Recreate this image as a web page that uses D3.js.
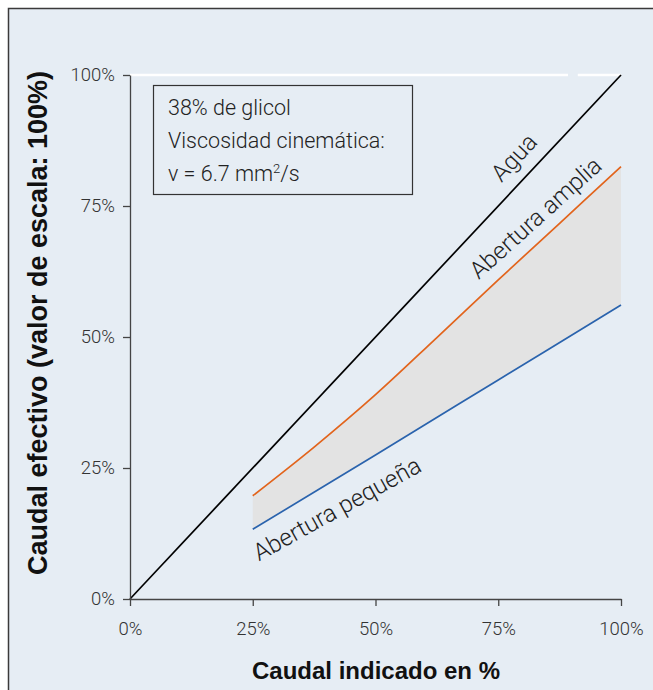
<!DOCTYPE html>
<html><head><meta charset="utf-8">
<script src="https://cdn.jsdelivr.net/npm/d3@7"></script>
<style>
html,body{margin:0;padding:0;background:#fff;}
svg{display:block;}
</style></head>
<body>
<script>
const xTicks = [0, 25, 50, 75, 100];
const yTicks = [0, 25, 50, 75, 100];
const aguaX = [0, 100];
const aguaY = [0, 100];
const ampliaX = [25, 37.5, 50, 62.5, 75, 87.5, 100];
const ampliaY = [19.7, 29.0, 39.0, 49.9, 60.9, 71.7, 82.5];
const pequenaX = [25, 50, 75, 100];
const pequenaY = [13.3, 27.5, 41.8, 56.1];
const infoLines = ["38% de glicol", "Viscosidad cinemática:"];

const W = 653, H = 690;
const svg = d3.select("body").append("svg").attr("width", W).attr("height", H);
const font = "Roboto, 'Liberation Sans', Arial, sans-serif";

svg.append("rect").attr("x", 0).attr("y", 0).attr("width", W).attr("height", H).attr("fill", "#ffffff");
svg.append("rect").attr("x", 8.5).attr("y", 8.5).attr("width", W + 20).attr("height", H + 20)
  .attr("fill", "#e6edf4").attr("stroke", "#3a3a3a").attr("stroke-width", 1.5);

const x = d3.scaleLinear().domain([0, 100]).range([130, 621]);
const y = d3.scaleLinear().domain([0, 100]).range([599, 75]);

// white top gridline
svg.append("line").attr("x1", x(0)).attr("x2", x(100)).attr("y1", y(100)).attr("y2", y(100))
  .attr("stroke", "#ffffff").attr("stroke-width", 2.5)
  .attr("stroke-dasharray", `${x(89.2)-x(0)} ${x(91.2)-x(89.2)} 1000`);

// shaded band
const pInterp = d3.scaleLinear().domain(pequenaX).range(pequenaY);
const band = ampliaX.map((v, i) => ({x: v, hi: ampliaY[i], lo: pInterp(v)}));
svg.append("path").datum(band)
  .attr("d", d3.area().x(d => x(d.x)).y0(d => y(d.lo)).y1(d => y(d.hi)).curve(d3.curveCatmullRom))
  .attr("fill", "#e3e3e3");

const line = d3.line().x(d => x(d[0])).y(d => y(d[1])).curve(d3.curveCatmullRom);
svg.append("path").datum(aguaX.map((v, i) => [v, aguaY[i]])).attr("d", line)
  .attr("fill", "none").attr("stroke", "#000").attr("stroke-width", 1.7);
svg.append("path").datum(ampliaX.map((v, i) => [v, ampliaY[i]])).attr("d", line)
  .attr("fill", "none").attr("stroke", "#e2641c").attr("stroke-width", 1.7);
svg.append("path").datum(pequenaX.map((v, i) => [v, pequenaY[i]])).attr("d", line)
  .attr("fill", "none").attr("stroke", "#2a63ad").attr("stroke-width", 1.7);

// axes
const yAxis = svg.append("g").attr("transform", `translate(${x(0)},0)`)
  .call(d3.axisLeft(y).tickValues(yTicks).tickFormat(d => d + "%").tickSize(7).tickSizeOuter(0));
const xAxis = svg.append("g").attr("transform", `translate(0,${y(0)})`)
  .call(d3.axisBottom(x).tickValues(xTicks).tickFormat(d => d + "%").tickSize(7).tickSizeOuter(0));
[yAxis, xAxis].forEach(g => {
  g.select(".domain").attr("stroke", "#444").attr("stroke-width", 1.3);
  g.selectAll(".tick line").attr("stroke", "#444").attr("stroke-width", 1.3);
  g.selectAll(".tick text").attr("fill", "#333").style("font-family", font).style("font-weight", 300).style("font-size", "18.5px");
});
yAxis.selectAll(".tick text").attr("x", -15);
xAxis.selectAll(".tick text").attr("y", 23);

// axis titles
svg.append("text").attr("x", 376).attr("y", 679).attr("text-anchor", "middle")
  .style("font-family", "'Liberation Sans', Arial, sans-serif").style("font-weight", "bold").style("font-size", "24px")
  .attr("fill", "#111").text("Caudal indicado en %");
svg.append("text").attr("transform", "translate(47,323) rotate(-90)").attr("text-anchor", "middle")
  .style("font-family", "'Liberation Sans', Arial, sans-serif").style("font-weight", "bold").style("font-size", "27px")
  .attr("fill", "#111").text("Caudal efectivo (valor de escala: 100%)");

// info box
svg.append("rect").attr("x", 153.5).attr("y", 85.5).attr("width", 259).attr("height", 109)
  .attr("fill", "none").attr("stroke", "#333").attr("stroke-width", 1.2);
const info = svg.append("g").style("font-family", font).style("font-weight", 300).style("font-size", "21.5px").attr("fill", "#222");
infoLines.forEach((t, i) => info.append("text").attr("x", 168).attr("y", 115 + i * 33).text(t));
const t3 = info.append("text").attr("x", 168).attr("y", 181);
t3.append("tspan").text("v = 6.7 mm");
t3.append("tspan").attr("dy", -8).style("font-size", "13px").text("2");
t3.append("tspan").attr("dy", 8).text("/s");

// curve labels
const lab = svg.append("g").style("font-family", font).style("font-weight", 300).style("font-size", "24px").attr("fill", "#222").attr("text-anchor", "middle");
lab.append("text").attr("transform", "translate(520,163) rotate(-47)").text("Agua");
lab.append("text").attr("transform", "translate(541,224) rotate(-42)").text("Abertura amplia");
lab.append("text").attr("transform", "translate(341,516) rotate(-29)").text("Abertura pequeña");
</script>
</body></html>
